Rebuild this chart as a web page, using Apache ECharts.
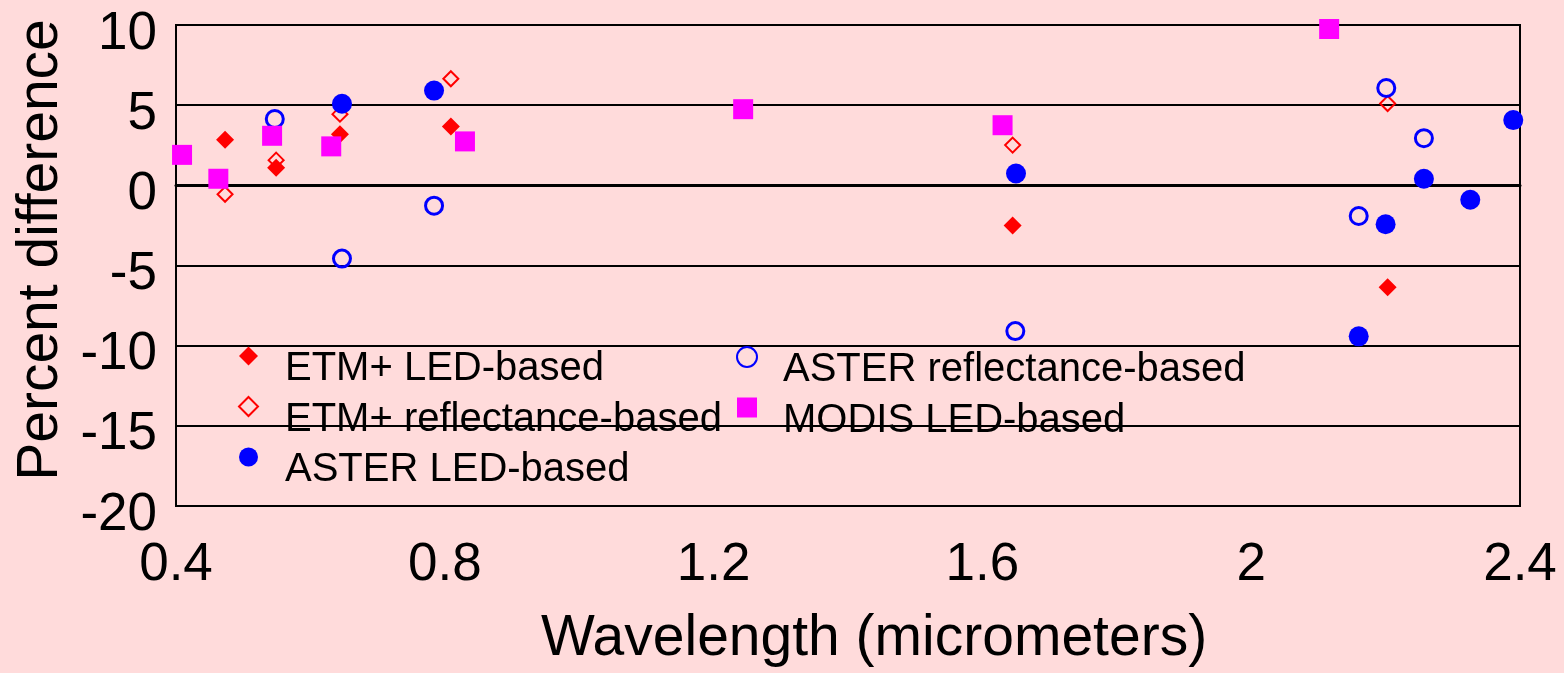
<!DOCTYPE html>
<html>
<head>
<meta charset="utf-8">
<title>Percent difference vs wavelength</title>
<script src="https://cdn.jsdelivr.net/npm/echarts@6/dist/echarts.min.js"></script>
<style>
  html, body { margin: 0; padding: 0; background: #FFDBDB; }
  #chart { width: 1564px; height: 673px; }
</style>
</head>
<body>
<div id="chart"></div>
<script>
// Wavelength (micrometers) and percent difference for each comparison
const etmLed = [
  [0.473, 2.84], [0.549, 1.09], [0.644, 3.19], [0.809, 3.67], [1.645, -2.51], [2.203, -6.36]
];
const etmRefl = [
  [0.473, -0.56], [0.549, 1.57], [0.644, 4.44], [0.809, 6.65], [1.645, 2.51], [2.203, 5.10]
];
const asterLed = [
  [0.647, 5.09], [0.784, 5.91], [1.650, 0.74], [2.160, -9.42], [2.200, -2.43],
  [2.257, 0.41], [2.326, -0.90], [2.390, 4.07]
];
const asterRefl = [
  [0.547, 4.14], [0.647, -4.57], [0.784, -1.27], [1.649, -9.09], [2.160, -1.91],
  [2.201, 6.07], [2.257, 2.94]
];
const modisLed = [
  [0.409, 1.90], [0.463, 0.41], [0.543, 3.09], [0.631, 2.43], [0.830, 2.74],
  [1.244, 4.75], [1.630, 3.75], [2.116, 9.75]
];

const seriesNames = [
  'ETM+ LED-based', 'ETM+ reflectance-based', 'ASTER LED-based',
  'ASTER reflectance-based', 'MODIS LED-based'
];
const xTicks = { min: 0.4, max: 2.4, step: 0.4 };
const yTicks = { min: -20, max: 10, step: 5 };

const FONT = '"Liberation Sans", Arial, Helvetica, sans-serif';
const RED = '#FF0000', BLUE = '#0000FF', MAGENTA = '#FF00FF';

const chart = echarts.init(document.getElementById('chart'), null, { renderer: 'canvas' });

// Legend labels: an empty spacer line sits above each name so the text
// hangs a little below its marker.
function legendTextStyle(leftPad) {
  return {
    fontFamily: FONT, color: '#000',
    rich: {
      s: { fontSize: 10, lineHeight: 26, padding: [0, 0, 0, leftPad] },
      t: { fontFamily: FONT, fontSize: 40, lineHeight: 42, color: '#000', padding: [0, 0, 0, leftPad] }
    }
  };
}
const legendFormatter = name => '{s| }\n{t|' + name + '}';

chart.setOption({
  backgroundColor: '#FFDBDB',
  animation: false,
  textStyle: { fontFamily: FONT },
  grid: {
    left: 176, right: 44, top: 25, bottom: 162,
    show: true, borderColor: '#000', borderWidth: 2, backgroundColor: 'transparent'
  },
  legend: [
    {
      data: [seriesNames[0], seriesNames[1], seriesNames[2]],
      orient: 'vertical', left: 238, top: 330, padding: 0,
      itemWidth: 19, itemHeight: 19, itemGap: -8.5,
      selectedMode: false, formatter: legendFormatter,
      textStyle: legendTextStyle(22)
    },
    {
      data: [seriesNames[3], seriesNames[4]],
      orient: 'vertical', left: 736, top: 331, padding: 0,
      itemWidth: 20, itemHeight: 20, itemGap: -8.5,
      selectedMode: false, formatter: legendFormatter,
      textStyle: legendTextStyle(21)
    }
  ],
  xAxis: {
    type: 'value',
    min: xTicks.min, max: xTicks.max, interval: xTicks.step,
    name: 'Wavelength (micrometers)',
    nameLocation: 'middle', nameGap: 105,
    nameTextStyle: { fontFamily: FONT, fontSize: 57, color: '#000', lineHeight: 57, padding: [0, 0, 0, 52] },
    axisLine: { show: true, lineStyle: { color: '#000', width: 3 } },
    axisTick: { show: false },
    splitLine: { show: false },
    axisLabel: { fontFamily: FONT, fontSize: 53, color: '#000', margin: 33 }
  },
  yAxis: {
    type: 'value',
    min: yTicks.min, max: yTicks.max, interval: yTicks.step,
    name: 'Percent difference',
    nameLocation: 'middle', nameRotate: 90, nameGap: 106,
    nameTextStyle: { fontFamily: FONT, fontSize: 57, color: '#000', lineHeight: 57, padding: [0, 0, 0, 31] },
    axisLine: { show: true, lineStyle: { color: '#000', width: 2 } },
    axisTick: { show: false },
    splitLine: { show: true, lineStyle: { color: '#000', width: 2 } },
    axisLabel: {
      fontFamily: FONT, fontSize: 53, color: '#000', margin: 19,
      verticalAlign: 'top', lineHeight: 18
    }
  },
  series: [
    {
      name: seriesNames[1], type: 'scatter', data: etmRefl, clip: false,
      symbol: 'diamond', symbolSize: 15,
      itemStyle: { color: 'rgba(0,0,0,0)', borderColor: RED, borderWidth: 2, opacity: 1 }
    },
    {
      name: seriesNames[0], type: 'scatter', data: etmLed, clip: false,
      symbol: 'diamond', symbolSize: 18,
      itemStyle: { color: RED, opacity: 1 }
    },
    {
      name: seriesNames[3], type: 'scatter', data: asterRefl, clip: false,
      symbol: 'circle', symbolSize: 17,
      itemStyle: { color: 'rgba(0,0,0,0)', borderColor: BLUE, borderWidth: 3, opacity: 1 }
    },
    {
      name: seriesNames[2], type: 'scatter', data: asterLed, clip: false,
      symbol: 'circle', symbolSize: 20,
      itemStyle: { color: BLUE, opacity: 1 }
    },
    {
      name: seriesNames[4], type: 'scatter', data: modisLed, clip: false,
      symbol: 'rect', symbolSize: 20,
      itemStyle: { color: MAGENTA, opacity: 1 }
    }
  ]
});
</script>
</body>
</html>
